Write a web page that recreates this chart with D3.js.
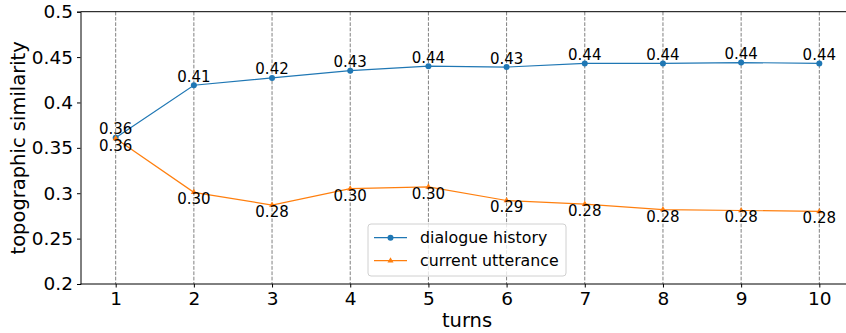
<!DOCTYPE html>
<html>
<head>
<meta charset="utf-8">
<script src="https://cdn.jsdelivr.net/npm/d3@7"></script>
<style>
  body { margin: 0; background: #fff; }
  svg { display: block; font-family: "DejaVu Sans", sans-serif; }
</style>
</head>
<body>
<svg id="chart" width="846" height="333"></svg>
<script>
// data
const turns = [1, 2, 3, 4, 5, 6, 7, 8, 9, 10];
const dialogueHistory = [0.361, 0.419, 0.427, 0.435, 0.440, 0.439, 0.443, 0.443, 0.444, 0.443];
const currentUtterance = [0.3602, 0.301, 0.287, 0.305, 0.307, 0.292, 0.288, 0.282, 0.281, 0.280];
const yTicks = [0.2, 0.25, 0.3, 0.35, 0.4, 0.45, 0.5];
const seriesNames = ["dialogue history", "current utterance"];
const colors = ["#1f77b4", "#ff7f0e"];

const svg = d3.select("#chart");
const margin = {top: 11.7, left: 80.5, bottom: 284};

const x = d3.scaleLinear().domain([0.55, 10.45]).range([margin.left, 854.5]);
const y = d3.scaleLinear().domain([0.2, 0.5]).range([margin.bottom, margin.top]);

// labels in the figure are truncated to two decimals
const fmt = d => (Math.floor(d * 100 + 1e-9) / 100).toFixed(2);

// dashed vertical grid
svg.append("g")
    .selectAll("line")
    .data(turns)
    .enter().append("line")
    .attr("x1", d => x(d)).attr("x2", d => x(d))
    .attr("y1", margin.top).attr("y2", margin.bottom)
    .attr("stroke", "#808080")
    .attr("stroke-width", 1)
    .attr("stroke-dasharray", "3.7,1.6");

// axes
const xAxis = d3.axisBottom(x).tickValues(turns).tickSize(3.5).tickPadding(4).tickFormat(d3.format("d"));
const yAxis = d3.axisLeft(y).tickValues(yTicks).tickSize(3.5).tickPadding(4).tickFormat(d => d3.format("")(+d.toFixed(2)));

const gx = svg.append("g")
    .attr("transform", "translate(0," + margin.bottom + ")")
    .call(xAxis);
const gy = svg.append("g")
    .attr("transform", "translate(" + margin.left + ",0)")
    .call(yAxis);

[gx, gy].forEach(g => {
    g.select(".domain").attr("stroke", "#000").attr("stroke-width", 1);
    g.selectAll(".tick line").attr("stroke", "#000");
    g.selectAll("text").attr("font-size", "18.5px").attr("fill", "#000").attr("font-family", "DejaVu Sans");
});
gx.select(".domain").attr("d", "M" + margin.left + ",0H846");

// top spine
svg.append("line")
    .attr("x1", margin.left).attr("x2", 846)
    .attr("y1", margin.top).attr("y2", margin.top)
    .attr("stroke", "#000").attr("stroke-width", 1);

// axis labels
svg.append("text")
    .attr("x", 467).attr("y", 327)
    .attr("text-anchor", "middle")
    .attr("font-size", "19.5px")
    .text("turns");
svg.append("text")
    .attr("transform", "translate(25," + ((margin.top + margin.bottom) / 2) + ") rotate(-90)")
    .attr("text-anchor", "middle")
    .attr("font-size", "19.5px")
    .text("topographic similarity");

const line = d3.line().x((d, i) => x(turns[i])).y(d => y(d));
const series = [dialogueHistory, currentUtterance];

series.forEach((vals, k) => {
    svg.append("path")
        .datum(vals)
        .attr("d", line)
        .attr("fill", "none")
        .attr("stroke", colors[k])
        .attr("stroke-width", 1.2);
});

// markers
svg.append("g").selectAll("circle")
    .data(dialogueHistory)
    .enter().append("circle")
    .attr("cx", (d, i) => x(turns[i]))
    .attr("cy", d => y(d))
    .attr("r", 3)
    .attr("fill", colors[0]);

const tri = d3.symbol().type(d3.symbolTriangle).size(16);
svg.append("g").selectAll("path")
    .data(currentUtterance)
    .enter().append("path")
    .attr("d", tri)
    .attr("transform", (d, i) => "translate(" + x(turns[i]) + "," + y(d) + ")")
    .attr("fill", colors[1]);

// value labels
svg.append("g").selectAll("text")
    .data(dialogueHistory)
    .enter().append("text")
    .attr("x", (d, i) => x(turns[i]))
    .attr("y", d => y(d) - 3.5)
    .attr("text-anchor", "middle")
    .attr("font-size", "15px")
    .text(fmt);

svg.append("g").selectAll("text")
    .data(currentUtterance)
    .enter().append("text")
    .attr("x", (d, i) => x(turns[i]))
    .attr("y", d => y(d) + 12)
    .attr("text-anchor", "middle")
    .attr("font-size", "15px")
    .text(fmt);

// legend
const legend = svg.append("g").attr("transform", "translate(368,224)");
legend.append("rect")
    .attr("width", 198).attr("height", 52)
    .attr("rx", 3)
    .attr("fill", "#fff").attr("fill-opacity", 0.8)
    .attr("stroke", "#d0d0d0");

seriesNames.forEach((name, k) => {
    const row = legend.append("g").attr("transform", "translate(0," + (13.7 + k * 23) + ")");
    row.append("line")
        .attr("x1", 6).attr("x2", 39)
        .attr("stroke", colors[k]).attr("stroke-width", 1.2);
    if (k === 0) {
        row.append("circle").attr("cx", 22.5).attr("cy", 0).attr("r", 3).attr("fill", colors[0]);
    } else {
        row.append("path").attr("d", tri).attr("transform", "translate(22.5,0)").attr("fill", colors[1]);
    }
    row.append("text")
        .attr("x", 52).attr("y", 0)
        .attr("dy", "0.35em")
        .attr("font-size", "15.8px")
        .text(name);
});
</script>
</body>
</html>
